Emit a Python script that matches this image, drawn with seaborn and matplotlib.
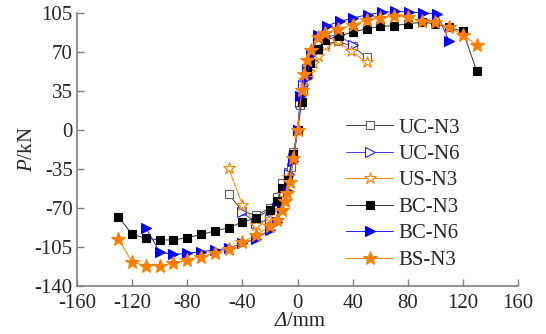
import numpy as np
import pandas as pd
import matplotlib
matplotlib.use("Agg")
import matplotlib.pyplot as plt
import seaborn as sns

sns.set_style("ticks")
plt.rcParams['font.family'] = ['Liberation Serif', 'DejaVu Serif']
plt.rcParams['mathtext.fontset'] = 'custom'
plt.rcParams['mathtext.rm'] = 'Liberation Serif'
plt.rcParams['mathtext.it'] = 'Liberation Serif:italic'
plt.rcParams['axes.unicode_minus'] = False

# --- data ---
uc_n3_x = [-50, -40, -30, -20, -15, -11, -7, -5, -3, 0, 2, 4, 6.5, 11, 20, 29, 40, 50]
uc_n3_y = [-58, -73, -77, -70, -60, -48, -38, -33, -20, 0, 22.5, 36, 51, 66, 77, 79.5, 75, 65.4]

uc_n6_x = [-40, -30, -20, -15, -10, -6, -3, 0, 2, 4, 7, 11, 15, 20, 30, 40]
uc_n6_y = [-74, -84, -80, -70, -55, -40, -25, 0, 25, 40, 55, 68, 78, 84, 85, 76.5]

us_n3_x = [-50, -40, -30, -20, -15, -11, -7, -3, 0, 3, 5, 8, 11, 15, 20, 29, 39, 50]
us_n3_y = [-34.5, -67.5, -86, -80, -70, -58, -42, -25, 0, 30, 45, 52, 60, 66, 75, 79.5, 70.5, 61]

bc_n3_x = [-130, -120, -110, -100, -90, -80, -70, -60, -50, -40, -30, -20, -15, -11, -7, -3,
           0, 3, 7, 9, 15, 20, 30, 40, 50, 60, 70, 80, 90, 100, 110, 120, 130]
bc_n3_y = [-78, -94, -97.5, -99, -99, -97, -94, -91, -88, -83, -79, -72, -64, -52, -45, -22,
           0, 24.6, 52.5, 60, 72.6, 80.4, 84.6, 87.6, 91, 93, 93.6, 95.4, 96.6, 95.4, 92, 88.5, 52.5]

bc_n6_x = [-110, -100, -90, -80, -70, -60, -50, -40, -30, -20, -15, -11, -7, -3,
           0, 2, 6.5, 10, 15, 21, 31, 40, 51, 61, 71, 81, 91, 101, 110]
bc_n6_y = [-88, -110, -112, -111, -109.5, -108, -106.5, -102, -98, -90, -83, -72, -55, -28,
           0, 30, 46.5, 68, 85.5, 93.6, 97.5, 100.5, 103.5, 105.6, 106.5, 106, 105, 104.4, 79.5]

bs_n3_x = [-130, -120, -110, -100, -90, -80, -70, -60, -50, -40, -30, -20, -15, -11, -9, -7.5, -5.6, -3,
           0, 3, 5, 7, 10, 15, 20, 29, 40, 50, 60, 70, 80, 90, 100, 110, 120, 130]
bs_n3_y = [-98, -119, -122, -122, -120, -117, -114, -111, -107, -101, -94.5, -86.5, -81, -72, -64, -57, -46.5, -25,
           0, 35.4, 50.4, 63, 72, 83.4, 87, 90.6, 94.5, 98.4, 100.5, 102, 101.4, 97.5, 96.6, 92, 85.5, 76]

orange = '#FF8000'
series = [
    ('UC-N3', uc_n3_x, uc_n3_y, dict(color='#404040', marker='s', markersize=6, mfc='white', mec='#606060')),
    ('UC-N6', uc_n6_x, uc_n6_y, dict(color='#4040E0', marker='>', markersize=7, mfc='white', mec='#2020FF')),
    ('US-N3', us_n3_x, us_n3_y, dict(color=orange, marker='*', markersize=9, mfc='white', mec=orange)),
    ('BC-N3', bc_n3_x, bc_n3_y, dict(color='#303030', marker='s', markersize=6, mfc='black', mec='black')),
    ('BC-N6', bc_n6_x, bc_n6_y, dict(color='#2020F0', marker='>', markersize=7, mfc='#0000FF', mec='#0000FF')),
    ('BS-N3', bs_n3_x, bs_n3_y, dict(color=orange, marker='*', markersize=10, mfc=orange, mec=orange)),
]

fig = plt.figure(figsize=(5.46, 3.34), dpi=100)
ax = fig.add_axes([0.141, 0.145, 0.808, 0.816])

for name, xs, ys, st in series:
    sns.lineplot(x=xs, y=ys, ax=ax, sort=False, label=name, linewidth=0.7,
                 markeredgewidth=0.8, clip_on=False, **st)

ax.set_xlim(-160, 160)
ax.set_ylim(-140, 105)
ax.set_xticks(np.arange(-160, 161, 40))
ax.set_yticks([-140, -105, -70, -35, 0, 35, 70, 105])
ax.tick_params(direction='in', length=5, width=1, color='#808080', labelsize=15, pad=3)
ax.tick_params(axis='x', pad=6)
for s in ['top', 'right']:
    ax.spines[s].set_visible(False)
for s in ['left', 'bottom']:
    ax.spines[s].set_color('#808080')
    ax.spines[s].set_linewidth(1.2)

# x label: italic Delta followed by upright unit
ax.text(0.476, -0.13, 'Δ', style='italic', fontsize=15, ha='right', va='center',
        transform=ax.transAxes)
ax.text(0.476, -0.13, '/mm', fontsize=15, ha='left', va='center', transform=ax.transAxes)
ax.set_ylabel(r'$P$/kN', fontsize=15, labelpad=-2)

ax.legend(loc='upper left', bbox_to_anchor=(0.61, 0.615), frameon=False, fontsize=15,
          handlelength=2.25, handletextpad=0.25, labelspacing=0.33, borderpad=0, borderaxespad=0)

fig.savefig('out.png', dpi=100)
